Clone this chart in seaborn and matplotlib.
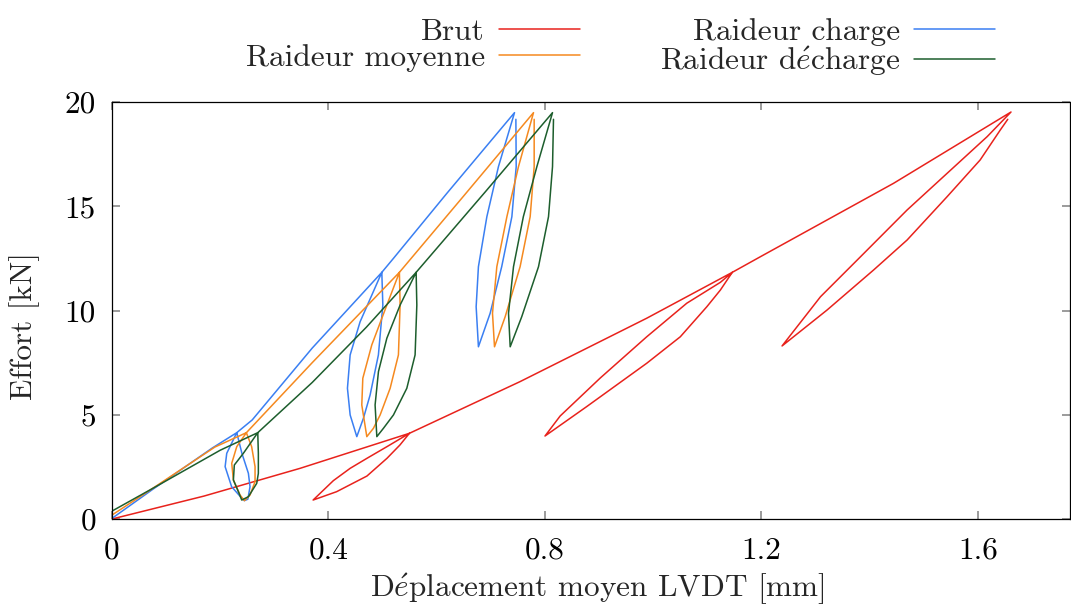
import numpy as np
import pandas as pd
import matplotlib
matplotlib.use("Agg")
import matplotlib.pyplot as plt
import seaborn as sns

# ---------------- data ----------------
brut_x = [0.0, 0.17, 0.3475, 0.5495,
          0.508, 0.471, 0.44, 0.409, 0.3716,
          0.415, 0.471, 0.508, 0.532, 0.5495,
          0.754, 0.988, 1.146,
          1.124, 1.062, 0.988, 0.902, 0.828, 0.800,
          0.877, 0.988, 1.050, 1.099, 1.124, 1.146,
          1.198, 1.444, 1.661,
          1.617, 1.543, 1.469, 1.383, 1.309, 1.238,
          1.321, 1.407, 1.469, 1.543, 1.604, 1.641, 1.655]
brut_y = [0.0, 1.1, 2.43, 4.11,
          3.47, 2.91, 2.43, 1.84, 0.91,
          1.31, 2.06, 2.91, 3.55, 4.11,
          6.59, 9.63, 11.83,
          11.35, 10.35, 8.74, 6.76, 4.94, 3.98,
          5.39, 7.47, 8.74, 10.18, 10.98, 11.83,
          12.58, 16.1, 19.52,
          18.34, 16.58, 14.82, 12.58, 10.66, 8.30,
          10.02, 11.94, 13.38, 15.46, 17.22, 18.65, 19.17]

charge_x = [0.0, 0.074, 0.185, 0.2305,
            0.212, 0.209, 0.221, 0.240, 0.2446,
            0.251, 0.255, 0.252, 0.240, 0.2305,
            0.259, 0.37, 0.4985,
            0.4584, 0.440, 0.435, 0.440, 0.4523,
            0.4645, 0.4769, 0.4922, 0.5004, 0.4985,
            0.52, 0.6187, 0.7437,
            0.714, 0.6926, 0.677, 0.6728, 0.677,
            0.6987, 0.720, 0.7388, 0.7468, 0.7462]
charge_y = [0.03, 1.40, 3.40, 4.14,
            3.15, 2.51, 1.55, 0.99, 0.88,
            0.95, 1.55, 2.19, 3.15, 4.14,
            4.75, 8.2, 11.83,
            9.46, 7.87, 6.27, 4.99, 3.95,
            4.83, 5.95, 7.87, 10.26, 11.83,
            12.5, 15.62, 19.49,
            16.90, 14.5, 12.1, 10.18, 8.26,
            9.87, 12.1, 14.5, 16.9, 19.17]

moyenne_x = [0.0, 0.074, 0.19, 0.2483,
             0.2305, 0.2212, 0.2243, 0.2366, 0.2446,
             0.255, 0.2643, 0.2643, 0.258, 0.2483,
             0.37, 0.531,
             0.5078, 0.480, 0.4634, 0.4615, 0.4708,
             0.483, 0.4954, 0.5139, 0.5292, 0.5323, 0.531,
             0.65, 0.7788,
             0.751, 0.7296, 0.711, 0.703, 0.7067,
             0.7264, 0.754, 0.7726, 0.780, 0.780]
moyenne_y = [0.19, 1.45, 3.45, 4.14,
             3.47, 2.67, 1.87, 1.15, 0.88,
             1.15, 1.79, 2.51, 3.47, 4.14,
             7.5, 11.83,
             10.26, 8.35, 6.75, 5.47, 3.95,
             4.35, 4.99, 6.27, 7.87, 10.26, 11.83,
             15.5, 19.49,
             16.9, 14.5, 12.1, 9.87, 8.26,
             9.7, 12.1, 14.5, 16.9, 19.17]

decharge_x = [0.0, 0.074, 0.20, 0.2693,
              0.2427, 0.226, 0.2243, 0.2335, 0.2397,
              0.252, 0.2674, 0.2704, 0.2704, 0.2693,
              0.37, 0.47, 0.5619,
              0.5323, 0.5078, 0.4923, 0.4861, 0.4893,
              0.5015, 0.520, 0.5447, 0.560, 0.5632, 0.5619,
              0.69, 0.8139,
              0.785, 0.760, 0.7418, 0.7326, 0.7357,
              0.757, 0.788, 0.8065, 0.8139, 0.8157]
decharge_y = [0.38, 1.45, 3.3, 4.14,
              3.15, 2.59, 1.87, 1.31, 0.91,
              1.07, 1.71, 2.19, 3.15, 4.14,
              6.55, 9.2, 11.83,
              10.26, 8.67, 7.07, 5.47, 3.95,
              4.35, 4.99, 6.27, 7.87, 10.26, 11.83,
              15.7, 19.49,
              16.9, 14.5, 12.1, 9.87, 8.26,
              9.7, 12.1, 14.5, 16.9, 19.17]

series_names = ["Brut", "Raideur charge", "Raideur moyenne", r"Raideur d$\acute{e}$charge"]
series_colors = ["#e8221c", "#3a7ff2", "#f5891f", "#1d5e2d"]
x_ticks = [0, 0.4, 0.8, 1.2, 1.6]
x_tick_labels = ["0", "0.4", "0.8", "1.2", "1.6"]
y_ticks = [0, 5, 10, 15, 20]
y_tick_labels = ["0", "5", "10", "15", "20"]

# ---------------- build long table ----------------
frames = []
for name, xs, ys in zip(series_names,
                        [brut_x, charge_x, moyenne_x, decharge_x],
                        [brut_y, charge_y, moyenne_y, decharge_y]):
    frames.append(pd.DataFrame({"x": xs, "y": ys, "serie": name}))
df = pd.concat(frames, ignore_index=True)

# ---------------- style ----------------
sns.set_style("white")
plt.rcParams["font.family"] = ["cmr10", "DejaVu Serif"]
plt.rcParams["mathtext.fontset"] = "cm"
plt.rcParams["axes.formatter.use_mathtext"] = True
FS = 22.5

W, H = 1071, 606
fig = plt.figure(figsize=(W / 100, H / 100), dpi=100)
ax = fig.add_axes([112 / W, 1 - 519 / H, (1070 - 112) / W, (519 - 102) / H])

sns.lineplot(data=df, x="x", y="y", hue="serie", hue_order=series_names,
             palette=dict(zip(series_names, series_colors)),
             sort=False, estimator=None, lw=1.1, ax=ax, legend=True)

ax.set_xlim(0, 1.77)
ax.set_ylim(0, 20)
ax.set_xticks(x_ticks)
ax.set_xticklabels(x_tick_labels)
ax.set_yticks(y_ticks)
ax.set_yticklabels(y_tick_labels)
ax.tick_params(axis="both", which="major", direction="in", length=5.8, width=1.1,
               color="#808080", labelsize=FS, labelcolor="black",
               top=True, right=True, bottom=True, left=True)
ax.tick_params(axis="x", pad=13)
ax.tick_params(axis="y", pad=11.5)
for s in ax.spines.values():
    s.set_color("black")
    s.set_linewidth(0.9)

ax.set_xlabel(r"D$\acute{e}$placement moyen LVDT [mm]", fontsize=FS)
ax.set_ylabel("Effort [kN]", fontsize=FS)
ax.xaxis.set_label_coords(0.507, -0.125)
ax.yaxis.set_label_coords(-0.075, 0.463)

handles, labels = ax.get_legend_handles_labels()
order = [series_names.index(n) for n in ["Brut", "Raideur moyenne", "Raideur charge",
                                          r"Raideur d$\acute{e}$charge"]]
ax.legend([handles[i] for i in order], [labels[i] for i in order],
          ncol=2, markerfirst=False, frameon=False, fontsize=FS,
          loc="upper right", bbox_to_anchor=(995 / W, 1 - 18 / H),
          bbox_transform=fig.transFigure, borderpad=0, borderaxespad=0,
          handlelength=2.6, handletextpad=0.45, columnspacing=2.54,
          labelspacing=-0.07)

fig.savefig("out.png", dpi=100)
